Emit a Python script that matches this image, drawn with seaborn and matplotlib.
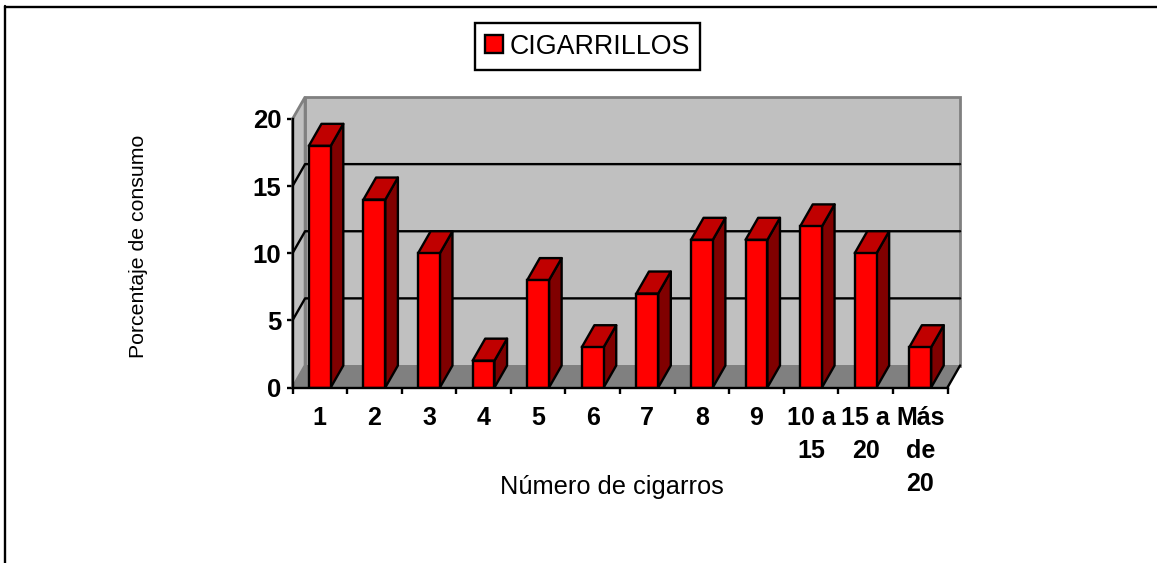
#!/usr/bin/env python3
# -*- coding: utf-8 -*-

import matplotlib
matplotlib.use('Agg')
import matplotlib.pyplot as plt
from matplotlib.lines import Line2D
from matplotlib.patches import Polygon
import numpy as np
import pandas as pd
import seaborn as sns

categorias = ['1', '2', '3', '4', '5', '6', '7', '8', '9', '10 a\n15', '15 a\n20', 'Más\nde\n20']
porcentajes = [18, 14, 10, 2, 8, 3, 7, 11, 11, 12, 10, 3]
y_ticks = [0, 5, 10, 15, 20]
serie = 'CIGARRILLOS'

W, H = 1157, 563
BAR_W = 0.4
LW = 1.7

sns.set_style('white')
plt.rcParams['font.family'] = ['Liberation Sans', 'DejaVu Sans']
plt.rcParams['text.color'] = 'black'
plt.rcParams['axes.labelcolor'] = 'black'
plt.rcParams['xtick.labelcolor'] = 'black'
plt.rcParams['ytick.labelcolor'] = 'black'

fig = plt.figure(figsize=(W / 100, H / 100), dpi=100)
ax = fig.add_axes([292.5 / W, 1 - 387.5 / H, 655 / W, 268.5 / H])
ax.patch.set_alpha(0)

df = pd.DataFrame({'cat': categorias, 'val': porcentajes})
sns.barplot(data=df, x='cat', y='val', ax=ax, color='#FF0000', saturation=1, width=BAR_W,
			edgecolor='black', linewidth=LW, label=serie, zorder=5)

ax.set_xlim(-0.5, len(categorias) - 0.5)
ax.set_ylim(0, 20)

# depth of the fake 3d box, in data units
dx = 12.6 / (655 / 12)
dy = 22 / (268.5 / 20)
x0, x1 = -0.5, len(categorias) - 0.5
y1 = y_ticks[-1]

GREY = '#808080'
WALL = '#C0C0C0'
ax.add_patch(Polygon([(x0 + dx, dy), (x1 + dx, dy), (x1 + dx, y1 + dy), (x0 + dx, y1 + dy)],
					 fc=WALL, ec=GREY, lw=2, clip_on=False, zorder=1))
ax.add_patch(Polygon([(x0, 0), (x0 + dx, dy), (x0 + dx, y1 + dy), (x0, y1)],
					 fc=WALL, ec=GREY, lw=2, clip_on=False, zorder=1))
ax.add_patch(Polygon([(x0, 0), (x1, 0), (x1 + dx, dy), (x0 + dx, dy)],
					 fc=GREY, ec=GREY, lw=0.5, clip_on=False, zorder=1.1))

for t in y_ticks[1:-1]:
	ax.plot([x0, x0 + dx, x1 + dx], [t, t + dy, t + dy], color='black', lw=LW, clip_on=False, zorder=2)
ax.plot([x1, x1 + dx], [0, dy], color='black', lw=LW, clip_on=False, zorder=2)

# sides and tops of the bars
for i, v in enumerate(porcentajes):
	l, r = i - BAR_W / 2, i + BAR_W / 2
	ax.add_patch(Polygon([(r, 0), (r + dx, dy), (r + dx, v + dy), (r, v)],
						 fc='#800000', ec='black', lw=LW, clip_on=False, zorder=4, joinstyle='round'))
	ax.add_patch(Polygon([(l, v), (l + dx, v + dy), (r + dx, v + dy), (r, v)],
						 fc='#C00000', ec='black', lw=LW, clip_on=False, zorder=4, joinstyle='round'))

for s in ['top', 'right']:
	ax.spines[s].set_visible(False)
for s in ['left', 'bottom']:
	ax.spines[s].set_color('black')
	ax.spines[s].set_linewidth(LW)
	ax.spines[s].set_zorder(6)

ax.set_yticks(y_ticks)
ax.set_xticks(np.arange(len(categorias) + 1) - 0.5, minor=True)
ax.tick_params(axis='x', which='major', length=0, pad=13.3, labelsize=18)
ax.tick_params(axis='x', which='minor', bottom=True, length=4.5, width=LW, color='black')
ax.tick_params(axis='y', left=True, length=4.5, width=LW, color='black', pad=3.5, labelsize=18.5)
for lab in ax.get_xticklabels():
	lab.set_fontweight('bold')
	lab.set_linespacing(1.48)
	lab.set_verticalalignment('top')
for lab in ax.get_yticklabels():
	lab.set_fontweight('bold')

ax.set_xlabel('Número de cigarros', fontsize=18.3, color='black')
ax.xaxis.set_label_coords(319 / 655, -(487 - 387.5) / 268.5, transform=ax.transAxes)
ax.xaxis.label.set_verticalalignment('center')
ax.set_ylabel('Porcentaje de consumo', fontsize=15.3, color='black')
ax.yaxis.set_label_coords((138 - 292.5) / 655, (387.5 - 246) / 268.5, transform=ax.transAxes)
ax.yaxis.label.set_verticalalignment('center')

leg = ax.legend(loc='center', bbox_to_anchor=(587.5 / W, 1 - 46.5 / H), bbox_transform=fig.transFigure,
				fontsize=19.3, fancybox=False, framealpha=1, edgecolor='black',
				handlelength=0.65, handleheight=0.65, handletextpad=0.26, borderpad=0.38, borderaxespad=0)
leg.get_frame().set_linewidth(LW)
leg.set_zorder(10)

# chart area frame, only top and left end up inside the picture
fig.add_artist(Line2D([5 / W, 1], [1 - 6.7 / H, 1 - 6.7 / H], color='black', lw=LW))
fig.add_artist(Line2D([5 / W, 5 / W], [1 - 6 / H, 0], color='black', lw=LW))

plt.savefig('out.png', dpi=100)
